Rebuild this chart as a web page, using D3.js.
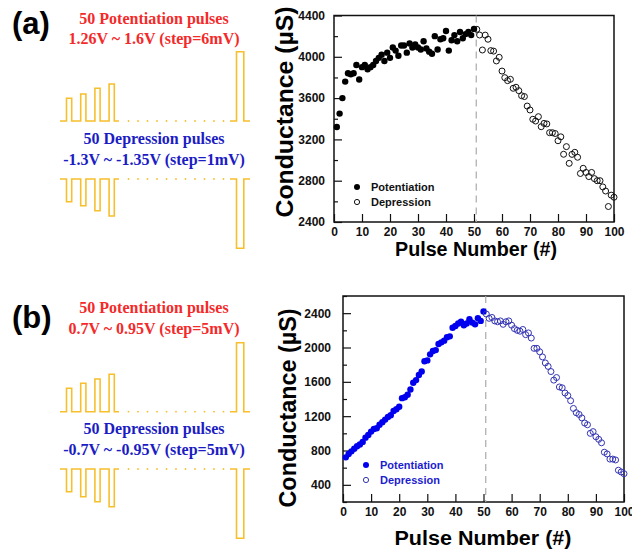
<!DOCTYPE html>
<html>
<head>
<meta charset="utf-8">
<script src="https://cdn.jsdelivr.net/npm/d3@7"></script>
<style>
  body { margin: 0; background: #fff; }
  svg { display: block; }
  .tick text { font-family: "Liberation Sans", Arial, sans-serif; font-weight: bold; font-size: 12px; fill: #111; }
  .tick line { stroke: #111; stroke-width: 1.2; }
  .domain { display: none; }
</style>
</head>
<body>
<svg id="fig" width="632" height="551"></svg>
<script>
// ---- data ----
const potA = [3320, 3450, 3600, 3760, 3840, 3830, 3840, 3920, 3780, 3900,
  3920, 3880, 3900, 3920, 3960, 3990, 4020, 3960, 4040, 3990,
  4090, 4060, 4010, 4110, 4110, 4040, 4130, 4090, 4120, 4090,
  4070, 4150, 4080, 4050, 4030, 4200, 4070, 4170, 4180, 4250,
  4060, 4160, 4210, 4150, 4240, 4180, 4220, 4240, 4210, 4270];
const depA = [4266, 4211, 4066, 4210, 4170, 4060, 4055, 3960, 3995, 3862,
  3798, 3769, 3782, 3695, 3705, 3672, 3623, 3615, 3523, 3485,
  3395, 3378, 3420, 3323, 3355, 3350, 3265, 3265, 3257, 3187,
  3225, 3056, 3130, 2968, 3055, 3075, 3027, 2870, 2920, 2880,
  2840, 2880, 2820, 2800, 2800, 2740, 2700, 2550, 2660, 2640];
const potB = [720, 760, 790, 820, 850, 870, 900, 950, 980, 1020,
  1050, 1060, 1100, 1130, 1160, 1190, 1210, 1260, 1280, 1310,
  1410, 1420, 1450, 1510, 1590, 1620, 1680, 1720, 1840, 1850,
  1920, 1960, 1970, 2040, 2060, 2080, 2120, 2130, 2230, 2250,
  2280, 2300, 2260, 2280, 2330, 2290, 2270, 2340, 2310, 2420];
const depB = [2390, 2340, 2350, 2310, 2300, 2310, 2270, 2300, 2310, 2260,
  2220, 2200, 2190, 2210, 2150, 2170, 2110, 1990, 1990, 1950,
  1890, 1820, 1780, 1720, 1620, 1650, 1540, 1530, 1470, 1440,
  1380, 1290, 1240, 1220, 1180, 1120, 1100, 1000, 1020, 960,
  930, 890, 780, 760, 700, 700, 690, 570, 550, 530];

const xTicks = [0, 10, 20, 30, 40, 50, 60, 70, 80, 90, 100];
const yTicksA = [2400, 2800, 3200, 3600, 4000, 4400];
const yMinorA = [2600, 3000, 3400, 3800, 4200];
const yTicksB = [400, 800, 1200, 1600, 2000, 2400];
const yMinorB = [200, 600, 1000, 1400, 1800, 2200, 2600];
const seriesNames = ['Potentiation', 'Depression'];

const labelsA = ['50 Potentiation pulses', '1.26V ~ 1.6V (step=6mV)',
  '50 Depression pulses', '-1.3V ~ -1.35V (step=1mV)'];
const labelsB = ['50 Potentiation pulses', '0.7V ~ 0.95V (step=5mV)',
  '50 Depression pulses', '-0.7V ~ -0.95V (step=5mV)'];

const svg = d3.select('#fig');
const sansBold = '"Liberation Sans", Arial, sans-serif';
const serif = '"Liberation Serif", "Times New Roman", serif';
const waveColor = '#f7bf2c';

// ---- scatter panel ----
function drawPanel(cfg) {
  const x = d3.scaleLinear().domain([0, 100]).range([cfg.left, cfg.right]);
  const y = d3.scaleLinear().domain(cfg.yDomain).range([cfg.bottom, cfg.top]);
  const g = svg.append('g');

  g.append('g')
    .attr('transform', `translate(0,${cfg.bottom})`)
    .call(d3.axisBottom(x).tickValues(xTicks).tickSize(-8).tickPadding(5).tickFormat(d3.format('d')));
  g.append('g')
    .attr('transform', `translate(${cfg.left},0)`)
    .call(d3.axisLeft(y).tickValues(cfg.yTicks).tickSize(-8).tickPadding(cfg.yPad).tickFormat(d3.format('d')));
  g.append('g')
    .attr('transform', `translate(${cfg.left},0)`)
    .call(d3.axisLeft(y).tickValues(cfg.yMinor).tickSize(-4).tickFormat(''));

  // frame
  g.append('rect')
    .attr('x', cfg.left).attr('y', cfg.top)
    .attr('width', cfg.right - cfg.left).attr('height', cfg.bottom - cfg.top)
    .attr('fill', 'none').attr('stroke', '#111').attr('stroke-width', 1.5);

  // divider between the two pulse trains
  g.append('line')
    .attr('x1', x(50.8)).attr('x2', x(50.8))
    .attr('y1', cfg.top).attr('y2', cfg.bottom)
    .attr('stroke', '#aaa').attr('stroke-width', 1.2).attr('stroke-dasharray', '7,5');

  g.selectAll('circle.pot')
    .data(cfg.pot)
    .enter().append('circle')
    .attr('class', 'pot')
    .attr('cx', (d, i) => x(i + 1))
    .attr('cy', d => y(d))
    .attr('r', 3.2)
    .attr('fill', cfg.fill);

  g.selectAll('circle.dep')
    .data(cfg.dep)
    .enter().append('circle')
    .attr('class', 'dep')
    .attr('cx', (d, i) => x(i + 51))
    .attr('cy', d => y(d))
    .attr('r', 3)
    .attr('fill', 'none')
    .attr('stroke', cfg.open)
    .attr('stroke-width', 1);

  // legend
  const lg = g.append('g').attr('transform', `translate(${cfg.legend[0]},${cfg.legend[1]})`);
  seriesNames.forEach((name, i) => {
    lg.append('circle')
      .attr('cx', 0).attr('cy', i * 15).attr('r', i ? 2.6 : 3)
      .attr('fill', i ? 'none' : cfg.fill)
      .attr('stroke', i ? cfg.open : 'none').attr('stroke-width', 1);
    lg.append('text')
      .attr('x', 14).attr('y', i * 15 + 4)
      .attr('font-family', sansBold).attr('font-weight', 'bold').attr('font-size', 11)
      .attr('fill', cfg.legendText)
      .text(name);
  });

  // axis titles
  g.append('text')
    .attr('transform', `translate(${cfg.yTitle[0]},${cfg.yTitle[1]}) rotate(-90)`)
    .attr('text-anchor', 'middle')
    .attr('font-family', sansBold).attr('font-weight', 'bold').attr('font-size', 24)
    .attr('textLength', cfg.yTitle[2]).attr('lengthAdjust', 'spacingAndGlyphs')
    .text('Conductance (µS)');
  g.append('text')
    .attr('x', cfg.xTitle[0]).attr('y', cfg.xTitle[1])
    .attr('text-anchor', 'middle')
    .attr('font-family', sansBold).attr('font-weight', 'bold').attr('font-size', 20)
    .attr('textLength', cfg.xTitle[2]).attr('lengthAdjust', 'spacingAndGlyphs')
    .text('Pulse Number (#)');
}

// ---- pulse waveform sketch ----
function drawWave(baseY, dir, heights, bigH) {
  const g = svg.append('g')
    .attr('fill', 'none').attr('stroke', waveColor).attr('stroke-width', 1.6);
  const p = d3.path();
  p.moveTo(60, baseY);
  heights.forEach((h, i) => {
    const x0 = 66.5 + i * 14.2;
    p.lineTo(x0, baseY);
    p.lineTo(x0, baseY - dir * h);
    p.lineTo(x0 + 5.2, baseY - dir * h);
    p.lineTo(x0 + 5.2, baseY);
  });
  p.lineTo(119, baseY);
  p.moveTo(230, baseY);
  p.lineTo(236.5, baseY);
  p.lineTo(236.5, baseY - dir * bigH);
  p.lineTo(243.8, baseY - dir * bigH);
  p.lineTo(243.8, baseY);
  p.lineTo(250, baseY);
  g.append('path').attr('d', p.toString());
  g.selectAll('circle')
    .data(d3.range(11))
    .enter().append('circle')
    .attr('cx', d => 128.5 + d * 9.5)
    .attr('cy', baseY)
    .attr('r', 0.9)
    .attr('fill', waveColor).attr('stroke', 'none');
}

function drawLabels(letter, letterY, texts, ys) {
  svg.append('text')
    .attr('x', 12).attr('y', letterY)
    .attr('font-family', sansBold).attr('font-weight', 'bold').attr('font-size', 31)
    .text(letter);
  texts.forEach((t, i) => {
    svg.append('text')
      .attr('x', 154).attr('y', ys[i])
      .attr('text-anchor', 'middle')
      .attr('font-family', serif).attr('font-weight', 'bold').attr('font-size', 16)
      .attr('fill', i < 2 ? '#f42a2a' : '#1c1cc4')
      .text(t);
  });
}

// (a)
drawLabels('(a)', 34, labelsA, [24, 44, 144, 165]);
drawWave(121, 1, [22.7, 27, 32.7, 37], 69.3);
drawWave(179, -1, [22.7, 26.7, 31.7, 37], 69.3);
drawPanel({
  left: 334, right: 614, top: 15.5, bottom: 222,
  yDomain: [2400, 4400], yTicks: yTicksA, yMinor: yMinorA, yPad: 9,
  pot: potA, dep: depA, fill: '#000', open: '#111', legendText: '#111',
  legend: [357, 187], yTitle: [293, 112, 211], xTitle: [476, 256, 162]
});

// (b)
drawLabels('(b)', 328, labelsB, [313, 334, 434, 455]);
drawWave(411.7, 1, [23.4, 28.4, 32.7, 37.4], 69);
drawWave(469, -1, [22.7, 27.7, 32.7, 37.7], 69.3);
drawPanel({
  left: 343, right: 624, top: 296, bottom: 502,
  yDomain: [200, 2600], yTicks: yTicksB, yMinor: yMinorB, yPad: 12,
  pot: potB, dep: depB, fill: '#0000ee', open: '#3434b4', legendText: '#1c1cd0',
  legend: [366, 465], yTitle: [296, 408, 199], xTitle: [483, 545, 177]
});
</script>
</body>
</html>
